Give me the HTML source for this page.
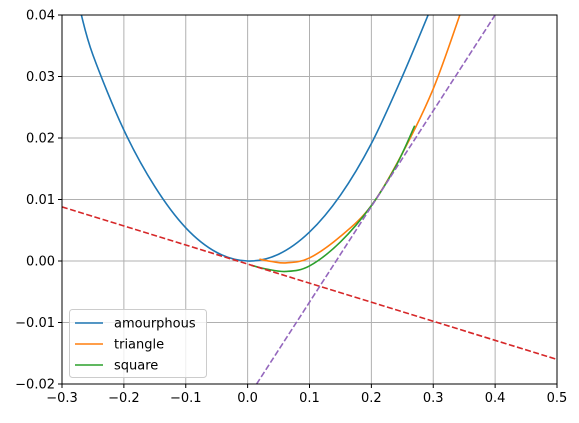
<!DOCTYPE html>
<html><head><meta charset="utf-8"><style>
body{margin:0;background:#fff;width:579px;height:418px;overflow:hidden}
text{font-family:"DejaVu Sans","Liberation Sans",sans-serif;font-size:13px;fill:#000}
</style></head><body>
<svg id="chart" width="579" height="418" xmlns="http://www.w3.org/2000/svg"></svg>
<script>
const xTicks=[-0.3,-0.2,-0.1,0.0,0.1,0.2,0.3,0.4,0.5];
const xTickLabels=["−0.3","−0.2","−0.1","0.0","0.1","0.2","0.3","0.4","0.5"];
const yTicks=[-0.02,-0.01,0,0.01,0.02,0.03,0.04];
const yTickLabels=["−0.02","−0.01","0.00","0.01","0.02","0.03","0.04"];
const amorphX=[-0.27,-0.25,-0.2,-0.15,-0.1,-0.05,0,0.05,0.1,0.15,0.2,0.25,0.295];
const amorphY=[0.0405,0.0335,0.0213,0.0121,0.0054,0.0014,0,0.0011,0.0047,0.0107,0.0191,0.03,0.0408];
const triX=[0.019,0.04,0.063,0.1,0.15,0.2,0.25,0.3,0.343];
const triY=[0.0003,-0.0001,-0.0003,0.0005,0.004,0.009,0.0175,0.028,0.04];
const sqX=[0.006,0.03,0.062,0.1,0.15,0.2,0.24,0.27];
const sqY=[-0.0007,-0.0013,-0.0017,-0.0008,0.0031,0.009,0.0155,0.022];
const redX=[-0.3,0.5], redY=[0.0088,-0.016];
const purpX=[0.0145,0.4], purpY=[-0.02,0.04];
const L=62,R=557,T=15,B=384;
const xs=v=>L+(v+0.3)/0.8*(R-L);
const ys=v=>B-(v+0.02)/0.06*(B-T);
const svg=document.getElementById('chart');
const NS='http://www.w3.org/2000/svg';
function mk(tag,attrs,parent){const e=document.createElementNS(NS,tag);for(const k in attrs)e.setAttribute(k,attrs[k]);(parent||svg).appendChild(e);return e;}
const defs=mk('defs',{});const cp=mk('clipPath',{id:'clip'},defs);mk('rect',{x:L,y:T,width:R-L,height:B-T},cp);
xTicks.forEach((t,i)=>{const x=xs(t);
 const g=mk('line',{x1:x,x2:x,y1:T,y2:B,stroke:'#b0b0b0','stroke-width':1});
 
 mk('line',{x1:x,x2:x,y1:B,y2:B+4,stroke:'#000'});
 const tx=mk('text',{x:x,y:B+18,'text-anchor':'middle'});tx.textContent=xTickLabels[i];
 });
yTicks.forEach((t,i)=>{const y=ys(t);
 const g=mk('line',{x1:L,x2:R,y1:y,y2:y,stroke:'#b0b0b0','stroke-width':1});
 
 mk('line',{x1:L-4,x2:L,y1:y,y2:y,stroke:'#000'});
 const tx=mk('text',{x:L-7,y:y+4.5,'text-anchor':'end'});tx.textContent=yTickLabels[i];
 });
function smooth(X,Y){const p=X.map((x,i)=>[xs(x),ys(Y[i])]);let d='M'+p[0][0]+','+p[0][1];
 for(let i=0;i<p.length-1;i++){const p0=p[i-1]||p[i],p1=p[i],p2=p[i+1],p3=p[i+2]||p2;
  d+=' C'+(p1[0]+(p2[0]-p0[0])/6)+','+(p1[1]+(p2[1]-p0[1])/6)+' '+(p2[0]-(p3[0]-p1[0])/6)+','+(p2[1]-(p3[1]-p1[1])/6)+' '+p2[0]+','+p2[1];}return d;}
function series(X,Y,color,name,dash){const e=mk('path',{d:smooth(X,Y),fill:'none',stroke:color,'stroke-width':1.6,'clip-path':'url(#clip)'});
 if(dash)e.setAttribute('stroke-dasharray','6,2.5');
 }
series(amorphX,amorphY,'#1f77b4','amourphous-line');
series(triX,triY,'#ff7f0e','triangle-line');
series(sqX,sqY,'#2ca02c','square-line');
series(redX,redY,'#d62728','red-dashed-line',true);
series(purpX,purpY,'#9467bd','purple-dashed-line',true);
const fr=mk('rect',{x:L,y:T,width:R-L,height:B-T,fill:'none',stroke:'#000','stroke-width':1});

const lg=mk('g',{});
mk('rect',{x:69.5,y:309.5,width:137,height:68,rx:3,fill:'#fff','fill-opacity':0.8,stroke:'#ccc'},lg);
[['amourphous','#1f77b4'],['triangle','#ff7f0e'],['square','#2ca02c']].forEach((e,i)=>{const y=323+i*21;
 const en=mk('g',{},lg);
 mk('line',{x1:75,x2:103,y1:y,y2:y,stroke:e[1],'stroke-width':1.6},en);
 const t=mk('text',{x:114,y:y+4.5},en);t.textContent=e[0];});
</script>
</body></html>
